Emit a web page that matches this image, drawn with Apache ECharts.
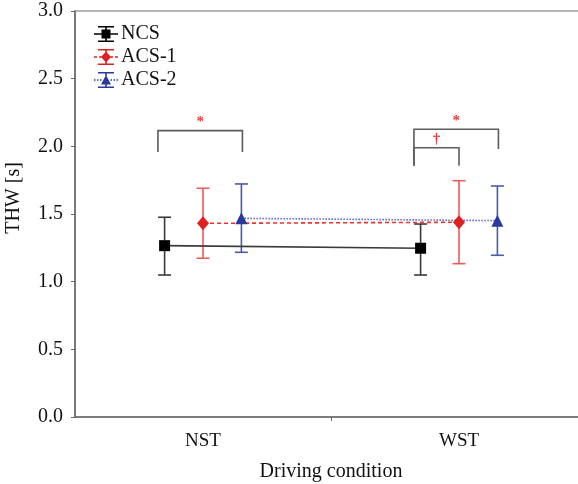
<!DOCTYPE html>
<html>
<head>
<meta charset="utf-8">
<script src="https://cdn.jsdelivr.net/npm/echarts@6/dist/echarts.min.js"></script>
<style>
html,body{margin:0;padding:0;background:#fff;}
#chart{width:578px;height:484px;}
</style>
</head>
<body>
<div id="chart"></div>
<script>
// ---- data ----
const categories = ['NST', 'WST'];
const seriesNames = ['NCS', 'ACS-1', 'ACS-2'];
const meanNCS = [1.266, 1.247];
const lowNCS = [1.049, 1.049];
const highNCS = [1.476, 1.426];
const meanACS1 = [1.431, 1.439];
const lowACS1 = [1.173, 1.133];
const highACS1 = [1.690, 1.746];
const meanACS2 = [1.468, 1.451];
const lowACS2 = [1.217, 1.195];
const highACS2 = [1.722, 1.707];
const yTicks = [0, 0.5, 1.0, 1.5, 2.0, 2.5, 3.0];
// significance brackets: [category, from series, to series, top, left leg end, right leg end, mark]
const brackets = [
  [0, 'NCS', 'ACS-2', 2.116, 1.958, 1.958, '*'],
  [1, 'NCS', 'ACS-2', 2.126, 1.857, 1.980, '*'],
  [1, 'NCS', 'ACS-1', 1.990, 1.857, 1.857, '\u2020']
];

// ---- layout / style ----
const FONT = "'Liberation Serif','Times New Roman',serif";
const offsets = { 'NCS': -0.15, 'ACS-1': 0, 'ACS-2': 0.15 };
const bracketPad = { 'NCS': -0.026, 'ACS-1': 0, 'ACS-2': 0.004 };
const styles = {
  'NCS':   { color: '#000000', bar: '#3a3a3a', line: '#3a3a3a', type: 'solid', symbol: 'rect', size: 11, lw: 1.6 },
  'ACS-1': { color: '#e02020', bar: '#f05a5a', line: '#ee3030', type: [4, 3], symbol: 'diamond', size: [12, 14], lw: 1.6 },
  'ACS-2': { color: '#2a3a9c', bar: '#4a58b4', line: '#5a66c8', type: [1.5, 1.5], symbol: 'triangle', size: 12, lw: 1.6 }
};
const groups = {
  'NCS': [meanNCS, lowNCS, highNCS],
  'ACS-1': [meanACS1, lowACS1, highACS1],
  'ACS-2': [meanACS2, lowACS2, highACS2]
};

const icons = {
  'NCS': 'path://M4 0H20V1.6H4Z M11.2 0H12.8V16H11.2Z M4 14.4H20V16H4Z M0 7.2H24V8.8H0Z M7.5 3.5H16.5V12.5H7.5Z',
  'ACS-1': 'path://M4 0H20V1.6H4Z M11.2 0H12.8V16H11.2Z M4 14.4H20V16H4Z M0 7.2H3V8.8H0Z M5 7.2H8V8.8H5Z M16 7.2H19V8.8H16Z M21 7.2H24V8.8H21Z M12 2.5L17 8L12 13.5L7 8Z',
  'ACS-2': 'path://M4 0H20V1.6H4Z M11.2 0H12.8V16H11.2Z M4 14.4H20V16H4Z M0 7.2H1.5V8.8H0Z M3 7.2H4.5V8.8H3Z M6 7.2H7.5V8.8H6Z M16.5 7.2H18V8.8H16.5Z M19.5 7.2H21V8.8H19.5Z M22.5 7.2H24V8.8H22.5Z M12 3L17 12.5H7Z'
};

const series = [];
seriesNames.forEach(function (name) {
  const st = styles[name];
  const g = groups[name];
  const ebData = categories.map(function (c, i) { return [i + offsets[name], g[1][i], g[2][i]]; });
  series.push({
    type: 'custom',
    name: name + ' err',
    data: ebData,
    z: 3,
    silent: true,
    renderItem: function (params, api) {
      const lo = api.coord([api.value(0), api.value(1)]);
      const hi = api.coord([api.value(0), api.value(2)]);
      const w = 6.5;
      const s = { stroke: st.bar, lineWidth: 1.6, fill: null };
      return {
        type: 'group',
        children: [
          { type: 'line', shape: { x1: lo[0], y1: lo[1], x2: hi[0], y2: hi[1] }, style: s },
          { type: 'line', shape: { x1: lo[0] - w, y1: lo[1], x2: lo[0] + w, y2: lo[1] }, style: s },
          { type: 'line', shape: { x1: hi[0] - w, y1: hi[1], x2: hi[0] + w, y2: hi[1] }, style: s }
        ]
      };
    }
  });
  series.push({
    type: 'line',
    name: name,
    data: categories.map(function (c, i) { return [i + offsets[name], g[0][i]]; }),
    symbol: st.symbol,
    symbolSize: st.size,
    showAllSymbol: true,
    z: 4,
    itemStyle: { color: st.color },
    lineStyle: { color: st.line, width: st.lw, type: st.type },
    emphasis: { disabled: true },
    animation: false
  });
});

series.push({
  type: 'custom',
  name: 'brackets',
  data: brackets.map(function (b) {
    return [b[0] + offsets[b[1]] + bracketPad[b[1]], b[0] + offsets[b[2]] + bracketPad[b[2]], b[3], b[4], b[5]];
  }),
  z: 5,
  silent: true,
  renderItem: function (params, api) {
    const x1 = api.value(0), x2 = api.value(1), top = api.value(2), l = api.value(3), r = api.value(4);
    const a = api.coord([x1, l]);
    const b = api.coord([x1, top]);
    const c = api.coord([x2, top]);
    const d = api.coord([x2, r]);
    const mark = brackets[params.dataIndex][6];
    return {
      type: 'group',
      children: [
        { type: 'polyline', shape: { points: [a, b, c, d] }, style: { stroke: '#5c5c5c', lineWidth: 1.6, fill: null } },
        { type: 'text', style: { text: mark, x: (b[0] + c[0]) / 2, y: b[1] - 1, align: 'center', verticalAlign: 'bottom',
          fill: '#e83a3a', font: 'bold 15px ' + FONT } }
      ]
    };
  }
});

const chart = echarts.init(document.getElementById('chart'), null, { renderer: 'canvas' });
chart.setOption({
  animation: false,
  backgroundColor: '#ffffff',
  grid: { left: 75, top: 11, width: 512, height: 406, show: true, borderColor: '#6a6a6a', borderWidth: 1.2,
    containLabel: false, outerBoundsMode: 'none' },
  legend: {
    orient: 'vertical',
    left: 94, top: 24, padding: 0,
    itemWidth: 24, itemHeight: 16, itemGap: 3,
    data: seriesNames.map(function (n) { return { name: n, icon: icons[n], itemStyle: { color: styles[n].color } }; }),
    textStyle: { fontFamily: FONT, fontSize: 20, color: '#111', padding: [0, 0, 0, -2] },
    selectedMode: false
  },
  xAxis: {
    type: 'value', min: -0.5, max: 1.5,
    name: 'Driving condition', nameLocation: 'middle', nameGap: 45,
    nameTextStyle: { fontFamily: FONT, fontSize: 20, color: '#111' },
    axisLine: { show: true, onZero: false, lineStyle: { color: '#6a6a6a', width: 1.5 } },
    axisTick: { show: true, customValues: [0.5], length: 4, inside: false, lineStyle: { color: '#6a6a6a' } },
    axisLabel: { customValues: [0, 1], formatter: function (v) { return categories[Math.round(v)]; },
      fontFamily: FONT, fontSize: 19, color: '#111', margin: 15 },
    splitLine: { show: false }
  },
  yAxis: {
    type: 'value', min: 0, max: 3, interval: 0.5,
    name: 'THW [s]', nameLocation: 'middle', nameGap: 51,
    nameTextStyle: { fontFamily: FONT, fontSize: 20, color: '#111', padding: [0, 0, 0, 32] },
    axisLine: { show: true, onZero: false, lineStyle: { color: '#6a6a6a', width: 1.5 } },
    axisTick: { show: true, length: 4, lineStyle: { color: '#6a6a6a' } },
    axisLabel: { formatter: function (v) { return yTicks.indexOf(v) >= 0 ? v.toFixed(1) : ''; },
      fontFamily: FONT, fontSize: 20, color: '#111', margin: 12 },
    splitLine: { show: false }
  },
  series: series
});
</script>
</body>
</html>
